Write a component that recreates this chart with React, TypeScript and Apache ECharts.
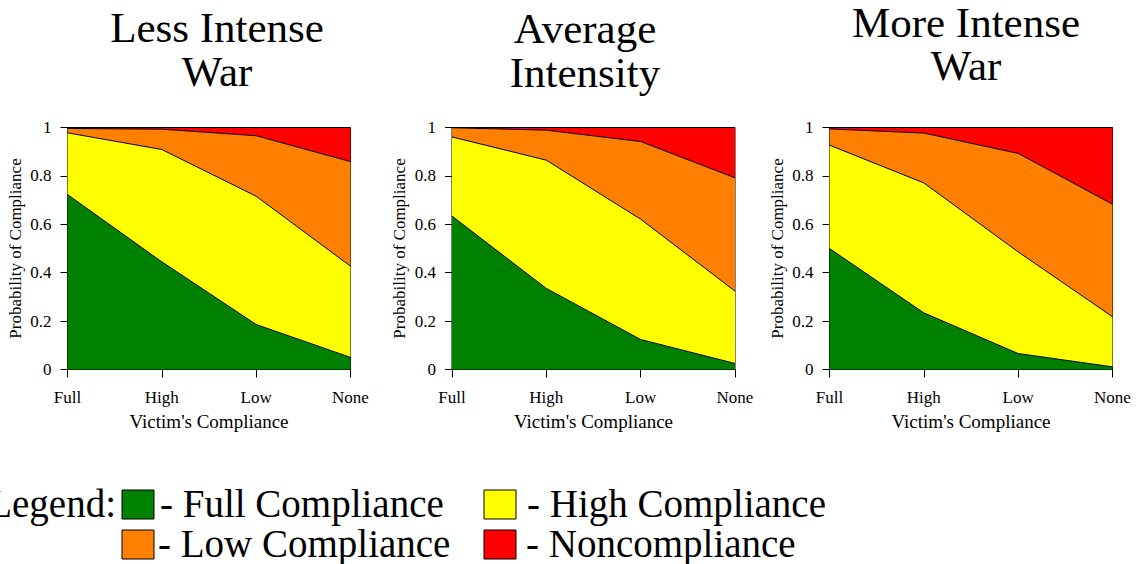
import React, { useEffect, useRef } from "react";
import * as echarts from "echarts";

const categories = ["Full", "High", "Low", "None"];
const outcomeNames = ["Full Compliance", "High Compliance", "Low Compliance", "Noncompliance"];
const outcomeColors = ["#008000", "#FFFF00", "#FF8000", "#FF0000"];
const panelTitles = [["Less Intense", "War"], ["Average", "Intensity"], ["More Intense", "War"]];

// Probabilities of each outcome (Full, High, Low, None compliance of victim)
const lessFull = [0.723, 0.445, 0.186, 0.05];
const lessHigh = [0.255, 0.464, 0.53, 0.377];
const lessLow = [0.018, 0.084, 0.25, 0.432];
const lessNon = [0.004, 0.007, 0.034, 0.141];

const avgFull = [0.634, 0.335, 0.124, 0.025];
const avgHigh = [0.327, 0.53, 0.497, 0.299];
const avgLow = [0.038, 0.124, 0.321, 0.468];
const avgNon = [0.001, 0.011, 0.058, 0.208];

const moreFull = [0.5, 0.234, 0.066, 0.011];
const moreHigh = [0.427, 0.537, 0.42, 0.207];
const moreLow = [0.067, 0.206, 0.407, 0.465];
const moreNon = [0.006, 0.023, 0.107, 0.317];

const panels = [
  [lessFull, lessHigh, lessLow, lessNon],
  [avgFull, avgHigh, avgLow, avgNon],
  [moreFull, moreHigh, moreLow, moreNon],
];

const FONT = "'Liberation Serif', 'Times New Roman', serif";

export default function App() {
  const ref = useRef<HTMLDivElement>(null);
  useEffect(() => {
    if (!ref.current) return;
    const chart = echarts.init(ref.current, undefined, { renderer: "svg" });
    const lefts = [67.5, 452, 829.5];
    const width = 283;
    const top = 127.5;
    const height = 242;

    const grids = lefts.map((l) => ({
      left: l,
      top,
      width,
      height,
      show: true,
      borderColor: "#000",
      borderWidth: 1,
      backgroundColor: "transparent",
      containLabel: false,
    }));

    const xAxes = lefts.map((_, i) => ({
      type: "category",
      gridIndex: i,
      data: categories,
      boundaryGap: false,
      name: "Victim's Compliance",
      nameLocation: "middle",
      nameGap: 42,
      nameTextStyle: { fontFamily: FONT, fontSize: 19, color: "#000" },
      axisLine: { show: true, lineStyle: { color: "#000", width: 1 } },
      axisTick: { show: true, length: 8, lineStyle: { color: "#000" } },
      axisLabel: { fontFamily: FONT, fontSize: 17, color: "#000", margin: 19 },
      splitLine: { show: false },
    }));

    const yAxes = lefts.map((_, i) => ({
      type: "value",
      gridIndex: i,
      min: 0,
      max: 1,
      interval: 0.2,
      name: "Probability of Compliance",
      nameLocation: "middle",
      nameGap: 44,
      nameTextStyle: { fontFamily: FONT, fontSize: 17, color: "#000" },
      axisLine: { show: true, lineStyle: { color: "#000", width: 1 } },
      axisTick: { show: true, length: 7, lineStyle: { color: "#000" } },
      axisLabel: { fontFamily: FONT, fontSize: 17, color: "#000", margin: 16 },
      splitLine: { show: false },
    }));

    const series: any[] = [];
    panels.forEach((p, i) => {
      p.forEach((vals, k) => {
        series.push({
          type: "line",
          name: outcomeNames[k],
          xAxisIndex: i,
          yAxisIndex: i,
          stack: "panel" + i,
          data: vals,
          symbol: "none",
          lineStyle: { color: "#000", width: 1 },
          areaStyle: { color: outcomeColors[k], opacity: 1 },
          z: 2,
        });
      });
    });

    const titleCenters = [
      [217, 27, 71],
      [585, 28, 72],
      [966, 22, 65],
    ];
    const graphics: any[] = [];
    panelTitles.forEach((t, i) => {
      const [cx, y1, y2] = titleCenters[i];
      [t[0], t[1]].forEach((line, j) => {
        graphics.push({
          type: "text",
          x: cx,
          y: j === 0 ? y1 : y2,
          style: {
            text: line,
            fontFamily: FONT,
            fontSize: 43,
            lineHeight: 38,
            fill: "#000",
            textAlign: "center",
            textVerticalAlign: "middle",
          },
        });
      });
    });

    // Legend
    const legFont = 39;
    graphics.push({
      type: "text",
      x: 116,
      y: 503,
      style: { text: "Legend:", fontFamily: FONT, fontSize: legFont, lineHeight: 32, fill: "#000", textAlign: "right", textVerticalAlign: "middle" },
    });
    const legPos = [
      [122, 490, 160, 503],
      [484, 490, 527, 503],
      [122, 530, 158, 543],
      [484, 530, 526, 543],
    ];
    outcomeNames.forEach((n, k) => {
      const [bx, by, tx, ty] = legPos[k];
      graphics.push({
        type: "rect",
        shape: { x: bx, y: by, width: 32, height: 29 },
        style: { fill: outcomeColors[k], stroke: "#000", lineWidth: 1 },
      });
      graphics.push({
        type: "text",
        x: tx,
        y: ty,
        style: { text: "- " + n, fontFamily: FONT, fontSize: legFont, lineHeight: 32, fill: "#000", textAlign: "left", textVerticalAlign: "middle" },
      });
    });

    chart.setOption({
      animation: false,
      backgroundColor: "#fff",
      grid: grids,
      xAxis: xAxes,
      yAxis: yAxes,
      series,
      graphic: graphics,
    });
    return () => chart.dispose();
  }, []);
  return (
    <div
      ref={ref}
      style={{ position: "fixed", left: 0, top: 0, width: 1142, height: 564 }}
    />
  );
}
